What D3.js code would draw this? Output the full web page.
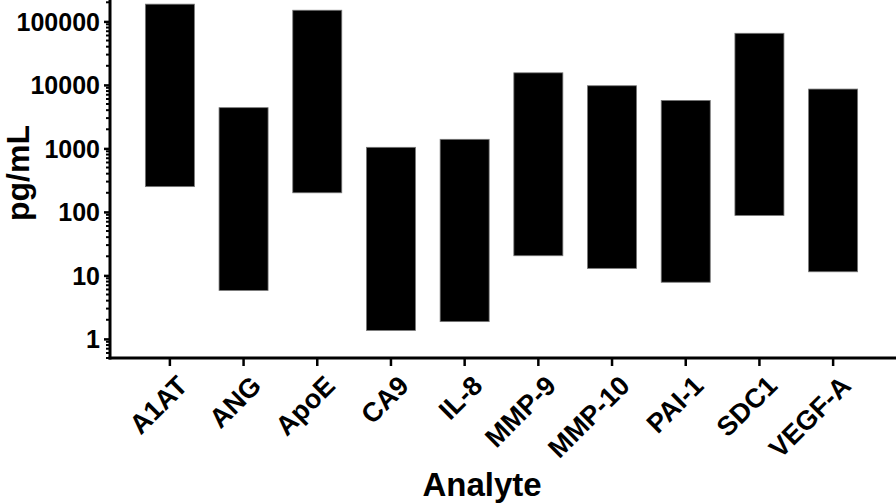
<!DOCTYPE html>
<html><head><meta charset="utf-8">
<script src="https://cdn.jsdelivr.net/npm/d3@7"></script>
<style>
body{margin:0;background:#fff;}
text{font-family:"Liberation Sans",Arial,sans-serif;font-weight:bold;fill:#000;}
</style></head>
<body><svg id="c" width="896" height="504"></svg>
<script>
const analytes = ["A1AT","ANG","ApoE","CA9","IL-8","MMP-9","MMP-10","PAI-1","SDC1","VEGF-A"];
const lowValues = [250, 5.8, 200, 1.36, 1.87, 20.4, 12.9, 7.8, 88, 11.4];
const highValues = [187000, 4380, 150000, 1040, 1390, 15500, 9700, 5700, 65000, 8600];
const yTickValues = [1, 10, 100, 1000, 10000, 100000];
const yTickLabels = ["1","10","100","1000","10000","100000"];
const yLabel = "pg/mL";
const xLabel = "Analyte";

const svg = d3.select("#c");
const x = d3.scaleBand().domain(analytes).range([110, 893]).paddingInner(0.335).paddingOuter(0.48);
const y = d3.scaleLog().domain([0.5, 200000]).range([358, 2.3]);

// bars
svg.append("g").selectAll("rect").data(analytes).join("rect")
  .attr("x", d => x(d))
  .attr("width", x.bandwidth())
  .attr("y", (d,i) => y(highValues[i]))
  .attr("height", (d,i) => y(lowValues[i]) - y(highValues[i]))
  .attr("fill", "#000")
  .attr("stroke", "#777").attr("stroke-width", 0.8);

// y axis major
const yAxis = svg.append("g").attr("transform","translate(110,0)")
  .call(d3.axisLeft(y).tickValues(yTickValues).tickFormat((d,i)=>yTickLabels[i]).tickSize(6).tickPadding(4));
yAxis.select(".domain").remove();
yAxis.selectAll(".tick line").attr("stroke","#000").attr("stroke-width",2.5);
yAxis.selectAll(".tick text").style("font-size","25px").attr("dy","0.36em");

// y minor ticks
const minor = y.ticks().filter(v => !yTickValues.includes(v));
svg.append("g").selectAll("line").data(minor).join("line")
  .attr("x1",106).attr("x2",110)
  .attr("y1",d=>y(d)).attr("y2",d=>y(d))
  .attr("stroke","#000").attr("stroke-width",2);

// x axis
const xAxis = svg.append("g").attr("transform","translate(0,358)")
  .call(d3.axisBottom(x).tickSize(8).tickFormat(""));
xAxis.select(".domain").remove();
xAxis.selectAll(".tick line").attr("stroke","#000").attr("stroke-width",2.5);

// axis lines
svg.append("line").attr("x1",110).attr("x2",110).attr("y1",0).attr("y2",359.5).attr("stroke","#000").attr("stroke-width",3);
svg.append("line").attr("x1",108.5).attr("x2",896).attr("y1",358).attr("y2",358).attr("stroke","#000").attr("stroke-width",3);

// x labels rotated
svg.append("g").selectAll("text").data(analytes).join("text")
  .attr("transform", d => `translate(${x(d)+x.bandwidth()/2+6},374) rotate(-45)`)
  .attr("text-anchor","end")
  .attr("dy","0.7em")
  .style("font-size","27px")
  .text(d=>d);

// axis titles
svg.append("text").attr("transform","translate(29,173) rotate(-90)")
  .attr("text-anchor","middle").style("font-size","32px").text(yLabel);
svg.append("text").attr("x",482).attr("y",496)
  .attr("text-anchor","middle").style("font-size","33px").text(xLabel);
</script></body></html>
